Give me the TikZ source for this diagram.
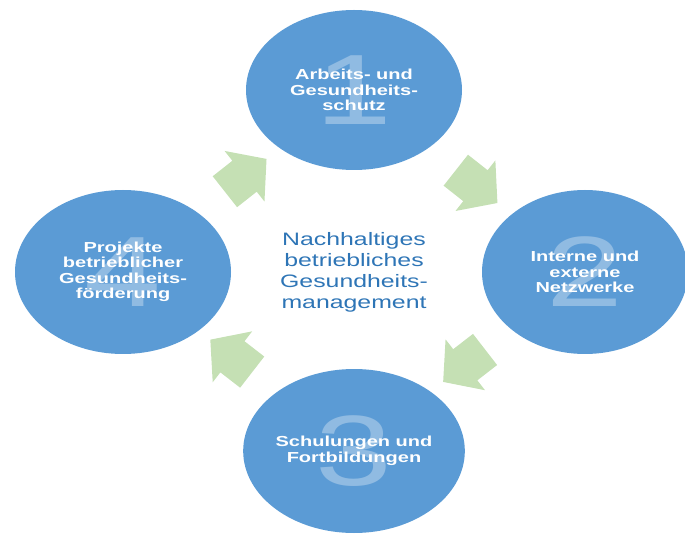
\documentclass[tikz,border=0pt]{standalone}
\usepackage{fontspec}
\setmainfont[FakeStretch=1.38]{Liberation Sans}
\usetikzlibrary{shapes.geometric,shapes.arrows}
\definecolor{bubbleblue}{HTML}{5B9BD5}
\definecolor{flowgreen}{HTML}{C5E0B4}
\definecolor{titleblue}{HTML}{2E75B6}
\tikzset{
  bubble/.style={ellipse,fill=bubbleblue,minimum width=216pt,minimum height=164pt,inner sep=0pt,
    align=center,text=white,font=\fontsize{14.5}{15.5}\selectfont\bfseries,
    path picture={\node[numeral] at (path picture bounding box.center) {#1};}},
  numeral/.style={text=bubbleblue!68!white,inner sep=0pt,font=\fontsize{100}{100}\selectfont\mdseries},
  flow/.style={single arrow,fill=flowgreen,minimum height=53pt,inner xsep=0pt,inner ysep=19.5pt,
    single arrow head extend=12.5pt,single arrow tip angle=98,sloped,allow upside down}
}

\begin{document}
\begin{tikzpicture}[x=1pt,y=-1pt]
  \useasboundingbox (0,0) rectangle (685,534);
  \clip (0,0) rectangle (685,534);

  \node[text=titleblue,align=center,font=\fontsize{18}{21}\selectfont] (mid) at (354,272)
    {Nachhaltiges\\betriebliches\\Gesundheits-\\management};

  \node[bubble=1,node distance=182pt,minimum height=160pt] (c1) [above of=mid] {Arbeits- und\\Gesundheits-\\schutz};
  \node[bubble=2,node distance=231pt,minimum width=206pt] (c2) [right of=mid] {Interne und\\externe\\Netzwerke};
  \node[bubble=3,node distance=179pt] (c3) [below of=mid] {Schulungen und\\Fortbildungen};
  \node[bubble=4,node distance=231pt] (c4) [left of=mid] {Projekte\\betrieblicher\\Gesundheits-\\förderung};

  \path
  (c1) -- node[flow] (a12) {} (c2)
  (c2) -- node[flow] (a23) {} (c3)
  (c3) -- node[flow] (a34) {} (c4)
  (c4) -- node[flow] (a41) {} (c1)
  ;
\end{tikzpicture}
\end{document}
